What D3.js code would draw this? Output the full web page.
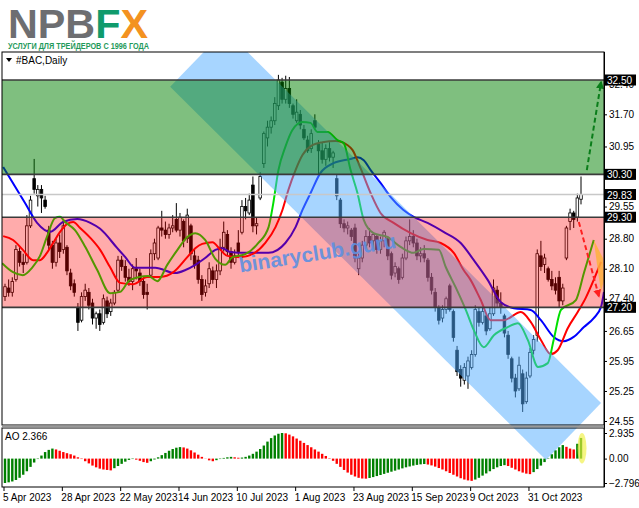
<!DOCTYPE html>
<html><head><meta charset="utf-8">
<script src="https://cdn.jsdelivr.net/npm/d3@7"></script>
<style>body{margin:0;background:#fff}svg{display:block}text{font-family:"Liberation Sans",Arial,sans-serif}</style>
</head><body><div id="c"></div>
<script>
// ---------- DATA ----------
const tickIdx=[0,16,32,48,64,80,96,112,128,144];
const tickLabels=["5 Apr 2023","28 Apr 2023","22 May 2023","14 Jun 2023","10 Jul 2023","1 Aug 2023","23 Aug 2023","15 Sep 2023","9 Oct 2023","31 Oct 2023"];
const open=[27.45,27.65,27.55,27.85,28.50,28.25,28.25,29.10,30.20,29.80,
29.95,29.70,29.00,28.65,28.25,28.70,28.55,28.60,28.00,27.75,
27.20,26.90,27.45,27.55,27.30,26.95,27.05,26.85,27.35,27.10,
27.30,27.60,28.30,28.15,27.90,27.80,28.10,28.00,27.80,27.55,
27.95,28.45,28.35,29.05,29.00,28.90,29.05,29.25,29.00,29.20,
28.80,29.10,28.40,28.30,27.85,27.55,27.75,28.05,27.85,28.05,
28.60,28.90,28.50,28.25,28.70,28.95,29.55,29.40,30.05,29.10,
29.75,30.55,31.15,31.40,31.55,31.90,32.45,32.05,32.30,31.90,
31.55,31.70,31.35,31.10,30.90,31.55,31.00,30.85,30.65,30.90,
30.70,30.20,29.70,29.15,29.05,29.00,29.05,28.10,28.35,28.65,
28.85,28.75,28.85,28.55,28.75,28.80,28.45,28.00,28.10,27.90,
28.35,28.75,28.85,28.70,28.40,28.45,28.30,27.90,27.55,27.20,
26.95,27.15,27.70,27.10,26.20,25.75,25.50,25.60,25.80,26.10,
27.10,26.85,27.00,26.70,27.05,27.60,27.30,27.00,26.55,26.00,
25.55,25.30,25.65,25.00,25.60,26.20,26.55,28.40,28.20,28.10,
27.85,27.75,27.90,27.35,28.35,29.20,29.40,29.30,29.72];
const high=[27.75,27.85,27.90,28.65,28.60,28.45,29.35,29.80,30.66,30.05,
30.05,29.80,29.10,28.75,28.80,28.90,29.25,28.65,28.10,27.85,
27.30,27.55,27.75,27.65,27.40,27.10,27.15,27.50,27.45,27.40,
27.60,28.40,28.40,28.30,28.10,28.20,28.35,28.10,27.90,27.75,
28.55,28.80,29.10,29.45,29.20,29.15,29.35,29.63,29.40,29.25,
29.50,29.15,28.55,28.40,27.95,27.85,28.25,28.15,28.20,28.80,
29.20,29.00,28.60,28.55,29.00,29.70,29.75,29.85,30.25,29.30,
30.35,31.30,31.55,31.65,32.10,32.62,32.55,32.60,32.57,31.95,
32.05,31.80,31.45,31.20,31.35,31.70,31.10,31.05,31.00,31.05,
30.85,30.30,29.75,29.25,29.20,29.05,29.15,28.45,28.75,29.00,
29.05,28.95,28.90,28.85,29.00,28.85,28.50,28.25,28.15,28.45,
28.85,29.25,29.00,28.80,28.60,28.65,28.35,28.00,27.65,27.25,
27.25,27.45,27.75,27.15,26.30,25.85,25.90,26.05,26.20,27.25,
27.20,27.20,27.05,27.20,27.85,27.70,27.55,27.05,26.65,26.05,
25.65,26.05,25.75,25.70,26.25,26.55,28.55,28.75,28.45,28.15,
28.05,27.90,28.05,27.75,29.10,29.50,29.45,29.85,30.25];
const low=[27.35,27.45,27.45,27.80,28.15,28.00,28.20,29.05,29.85,29.55,
29.40,29.50,28.55,28.10,28.15,28.35,28.45,27.95,27.60,27.45,
26.65,26.85,27.35,27.15,26.80,26.70,26.65,26.80,26.95,27.00,
27.25,27.55,28.05,27.80,27.70,27.60,27.85,27.70,27.40,27.15,
27.90,28.30,28.30,28.85,28.80,28.80,28.95,28.95,28.85,28.60,
28.70,28.30,28.10,27.75,27.35,27.45,27.65,27.75,27.65,27.95,
28.50,28.40,28.10,28.20,28.40,28.90,29.25,29.35,28.95,28.90,
29.70,30.45,30.95,31.25,31.45,31.80,31.95,31.95,31.85,31.60,
31.50,31.35,31.10,30.80,30.80,31.35,30.28,30.55,30.50,30.60,
30.45,29.70,29.05,28.95,28.90,28.75,28.25,27.95,28.25,28.55,
28.60,28.55,28.45,28.45,28.60,28.30,27.85,27.90,27.75,27.85,
28.30,28.65,28.60,28.30,28.25,28.25,27.80,27.50,27.10,26.80,
26.85,27.05,27.10,26.40,25.60,25.35,25.40,25.30,25.75,26.05,
26.75,26.80,26.55,26.65,27.00,27.20,27.05,26.50,26.00,25.45,
25.10,25.25,24.76,24.95,25.55,26.10,26.40,28.05,28.00,27.80,
27.60,27.50,27.20,27.25,28.30,29.00,29.05,29.20,29.60];
const close=[27.68,27.55,27.80,28.55,28.25,28.20,29.10,29.70,29.95,29.95,
29.75,29.55,28.65,28.25,28.70,28.50,29.10,28.05,27.70,27.55,
26.85,27.45,27.60,27.25,26.95,27.05,26.80,27.40,27.05,27.30,
27.55,28.30,28.15,27.90,27.80,28.10,28.05,27.80,27.50,27.50,
28.45,28.70,29.05,29.00,28.90,29.05,29.10,29.00,29.30,28.75,
29.35,28.45,28.20,27.85,27.50,27.70,28.10,27.85,28.05,28.60,
28.95,28.50,28.25,28.40,28.50,29.55,29.45,29.70,29.10,29.15,
30.25,31.25,31.40,31.55,31.95,32.50,32.05,32.30,31.95,31.70,
31.75,31.45,31.15,30.85,31.25,31.40,30.85,30.65,30.90,30.70,
30.80,29.80,29.15,29.05,29.10,28.85,28.35,28.35,28.65,28.85,
28.70,28.90,28.55,28.75,28.95,28.40,27.95,28.15,27.85,28.35,
28.75,28.85,28.70,28.40,28.45,28.35,27.90,27.60,27.20,26.90,
27.15,27.40,27.15,26.50,25.70,25.55,25.80,25.95,26.10,27.15,
26.85,27.10,26.65,27.05,27.65,27.30,27.20,26.60,26.10,25.55,
25.25,25.85,24.95,25.55,26.15,26.45,28.45,28.15,28.35,27.85,
27.70,27.60,27.35,27.65,29.05,29.40,29.25,29.75,29.83];
const ao=[-2.796,-2.72,-2.62,-2.45,-2.20,-1.85,-1.45,-0.95,-0.45,-0.05,
0.35,0.75,1.00,1.15,1.05,0.90,0.75,0.62,0.50,0.35,
0.15,-0.05,-0.30,-0.55,-0.80,-1.00,-1.15,-1.25,-1.30,-1.35,
-1.10,-0.85,-0.60,-0.35,-0.15,-0.05,-0.12,-0.25,-0.40,-0.48,
-0.30,-0.10,0.15,0.40,0.65,0.90,1.10,1.25,1.32,1.28,
1.15,0.95,0.70,0.45,0.20,-0.02,-0.20,-0.30,-0.18,-0.05,
0.08,0.15,0.20,0.15,0.10,0.12,0.20,0.35,0.55,0.80,
1.10,1.50,1.95,2.35,2.65,2.85,2.935,2.90,2.75,2.55,
2.30,2.05,1.80,1.55,1.30,1.05,0.80,0.55,0.30,0.05,
-0.25,-0.60,-0.95,-1.30,-1.60,-1.85,-2.05,-2.20,-2.28,-2.30,
-2.22,-2.12,-2.00,-1.88,-1.75,-1.62,-1.50,-1.38,-1.25,-1.12,
-1.00,-0.90,-0.80,-0.72,-0.66,-0.62,-0.68,-0.78,-0.92,-1.08,
-1.25,-1.45,-1.65,-1.85,-2.05,-2.25,-2.40,-2.50,-2.55,-2.40,
-2.20,-1.95,-1.70,-1.45,-1.20,-1.00,-0.85,-0.75,-0.85,-1.05,
-1.25,-1.45,-1.60,-1.72,-1.78,-1.55,-1.20,-0.80,-0.40,0.05,
0.50,0.95,1.30,1.55,1.35,1.15,1.05,1.70,2.366];
const jawIdx=[-0.5,5.5,8.8,12.4,15.9,19.8,23.4,26.1,30.8,33.0,35.7,41.2,46.7,49.5,52.2,54.9,57.7,59.6,61.8,65.9,72.3,76.9,79.7,81.6,83.8,86.5,90.1,94.8,96.7,98.4,100.3,103.0,105.8,109.3,112.1,115.9,120.3,125.0,128.6,132.4,136.0,139.6,144.2,147.0,150.5,153.3,156.0,158.8,161.5,163.5,164.3];
const jawVal=[30.47,29.63,29.17,28.96,29.19,29.26,29.17,29.03,28.58,28.37,28.12,28.12,28.00,28.07,28.19,28.35,28.54,28.58,28.49,28.47,28.47,28.70,29.07,29.47,29.86,30.33,30.56,30.66,30.70,30.63,30.40,30.10,29.77,29.47,29.31,29.17,28.96,28.70,28.30,27.84,27.32,27.18,27.14,26.90,26.51,26.41,26.51,26.74,26.95,27.21,27.56];
const teethIdx=[-0.5,2.2,4.9,7.7,9.6,11.5,13.2,15.1,17.0,18.7,20.6,23.4,26.1,28.8,31.6,35.2,39.0,42.6,46.2,50.0,52.2,54.1,56.9,59.1,61.0,64.6,67.9,71.4,74.2,76.1,77.7,79.7,81.6,84.3,87.1,90.7,94.0,95.3,97.5,100.3,103.0,106.6,111.3,115.9,119.5,123.1,125.8,127.7,130.5,133.2,136.8,141.5,144.2,147.0,149.7,151.6,154.4,157.1,159.3,161.5,163.5];
const teethVal=[28.86,28.77,28.54,28.30,28.30,28.47,28.70,28.96,29.14,29.19,29.05,28.82,28.54,28.14,27.77,27.74,27.91,27.91,28.02,28.37,28.58,28.68,28.72,28.54,28.40,28.37,28.44,28.70,29.07,29.47,29.93,30.40,30.75,30.98,31.05,31.08,30.98,30.87,30.45,29.86,29.40,29.17,28.93,28.77,28.70,28.47,28.07,27.84,27.37,26.90,26.90,27.09,26.86,26.44,26.11,26.20,26.72,27.09,27.42,27.84,28.26];
const lipsIdx=[-0.8,2.2,4.9,7.4,9.6,11.5,13.7,15.1,16.5,19.2,22.0,25.3,28.8,31.6,34.3,39.3,41.8,44.5,47.3,50.0,52.2,54.9,57.7,60.4,62.4,65.9,69.5,72.3,73.6,75.0,76.9,78.8,81.6,83.8,85.7,88.5,91.2,92.9,94.8,96.7,98.4,101.1,104.9,108.5,112.1,114.8,119.0,120.9,123.6,126.4,128.6,131.3,134.1,137.9,140.7,143.4,146.2,148.9,150.5,152.5,156.6,158.8,161.5];
const lipsVal=[28.23,28.02,27.95,28.12,28.40,28.84,29.28,29.31,29.19,29.00,28.61,28.07,27.53,27.56,27.84,27.93,27.81,28.19,28.54,28.84,28.93,28.77,28.33,28.19,28.37,28.44,28.70,29.07,29.63,30.40,30.94,31.33,31.52,31.50,31.29,31.29,31.10,31.03,30.40,29.86,29.24,28.93,28.84,28.61,28.47,28.56,28.54,28.14,27.67,27.14,26.67,26.27,26.55,26.74,26.83,26.44,25.81,25.90,26.44,27.14,27.37,28.00,28.77];
const priceTicks=[24.55,25.25,25.95,26.65,27.40,28.10,28.80,29.55,30.25,30.95,31.70,32.40];
const zoneGreen=[30.30,32.50];
const zoneRed=[27.20,29.30];
const levels=[32.50,30.30,29.30,27.20];
const lastPrice=29.83;
const aoTicks=[2.935,0,-2.796];
const aoLast=2.366;
const channelIdx=[45.3,60.4,163.5,148.4];
const channelVal=[32.34,33.67,24.97,23.64];
const upArrow=[[159.6,30.40],[163.5,32.45]];
const downArrow=[[157.4,29.19],[162.9,27.46]];
const orangeIdx=[161.5,164.0,164.3,163.5,162.6];
const orangeVal=[28.77,28.35,27.84,27.56,28.07];

// ---------- LAYOUT ----------
const W=639,H=508;
const L=2,R=604,mainTop=52,mainBot=425,aoTop=428,aoBot=487;
const svg=d3.select("#c").append("svg").attr("width",W).attr("height",H);
const x=d3.scaleLinear().domain([0,158]).range([5,581]);
const y=d3.scaleLinear().domain([24.55,32.50]).range([421,80]);
const yA=d3.scaleLinear().domain([-2.796,2.935]).range([483,433]);
const defs=svg.append("defs");
function clip(id,x0,y0,x1,y1){defs.append("clipPath").attr("id",id).append("rect").attr("x",x0).attr("y",y0).attr("width",x1-x0).attr("height",y1-y0);}
clip("cm",L,mainTop,R,mainBot);clip("ca",L,aoTop,R,aoBot);clip("call",L,mainTop,R,aoBot);

// logo
const logo=svg.append("text").attr("x",8).attr("y",38).attr("font-size",41).attr("font-weight","bold")
 .attr("textLength",140).attr("lengthAdjust","spacingAndGlyphs");
logo.append("tspan").attr("fill","#6d6e71").text("NPB");
logo.append("tspan").attr("fill","#0f9b6c").text("F");
logo.append("tspan").attr("fill","#f39221").text("X");
svg.append("text").attr("x",8).attr("y",48.5).attr("font-size",8.5).attr("font-weight","bold").attr("fill","#1f9a5b")
 .attr("textLength",141).attr("lengthAdjust","spacingAndGlyphs").text("УСЛУГИ ДЛЯ ТРЕЙДЕРОВ С 1996 ГОДА");

// AO bars
const gA=svg.append("g").attr("clip-path","url(#ca)");
gA.selectAll("rect").data(ao).join("rect")
 .attr("x",(d,i)=>x(i)-1.2).attr("width",2.4)
 .attr("y",d=>Math.min(yA(d),yA(0))).attr("height",d=>Math.abs(yA(d)-yA(0)))
 .attr("fill",(d,i)=>i===0||d>ao[i-1]?"#008000":"#ff0000");
gA.append("ellipse").attr("cx",x(158)+1).attr("cy",(yA(aoLast)+yA(0))/2).attr("rx",4.5).attr("ry",(yA(0)-yA(aoLast))/2+5)
 .attr("fill","#f0f040").attr("opacity",0.65);

// candles
const gM=svg.append("g").attr("clip-path","url(#cm)");
const idx=d3.range(close.length);
gM.selectAll("line.w").data(idx).join("line").attr("x1",i=>x(i)).attr("x2",i=>x(i))
 .attr("y1",i=>y(high[i])).attr("y2",i=>y(low[i])).attr("stroke","#000").attr("stroke-width",1);
gM.selectAll("rect.b").data(idx).join("rect")
 .attr("x",i=>x(i)-1.3).attr("width",2.6)
 .attr("y",i=>y(Math.max(open[i],close[i]))).attr("height",i=>Math.max(1,Math.abs(y(open[i])-y(close[i]))))
 .attr("fill",i=>close[i]>=open[i]?"#fff":"#000").attr("stroke","#000").attr("stroke-width",0.8);

// alligator
const ln=d3.line().x(d=>x(d[0])).y(d=>y(d[1])).curve(d3.curveMonotoneX);
[[jawIdx,jawVal,"#0000ff"],[teethIdx,teethVal,"#ff0000"],[lipsIdx,lipsVal,"#00e000"]].forEach(([a,b,c])=>{
 gM.append("path").attr("d",ln(a.map((v,k)=>[v,b[k]]))).attr("fill","none").attr("stroke",c).attr("stroke-width",2);
});

// channel
svg.append("g").attr("clip-path","url(#call)").append("polygon")
 .attr("points",channelIdx.map((v,k)=>x(v)+","+y(channelVal[k])).join(" "))
 .attr("fill","rgb(80,172,255)").attr("opacity",0.5);

// zones
const gZ=svg.append("g").attr("clip-path","url(#cm)");
gZ.append("rect").attr("x",L).attr("width",R-L).attr("y",y(zoneGreen[1])).attr("height",y(zoneGreen[0])-y(zoneGreen[1]))
 .attr("fill","rgb(0,128,0)").attr("opacity",0.5);
gZ.append("rect").attr("x",L).attr("width",R-L).attr("y",y(zoneRed[1])).attr("height",y(zoneRed[0])-y(zoneRed[1]))
 .attr("fill","rgb(255,0,0)").attr("opacity",0.33);
gZ.append("line").attr("x1",L).attr("x2",R).attr("y1",y(lastPrice)).attr("y2",y(lastPrice)).attr("stroke","#c8c8c8").attr("stroke-width",1.5);
levels.forEach(v=>gZ.append("line").attr("x1",L).attr("x2",R).attr("y1",y(v)).attr("y2",y(v)).attr("stroke","#3a3a3a").attr("stroke-width",1.6));

// watermark
gZ.append("text").attr("transform",`translate(${x(86)},${y(28.3)}) rotate(-9)`).attr("text-anchor","middle")
 .attr("font-family","'Open Sans',sans-serif").attr("font-weight","bold").attr("font-size",21).attr("fill","#5f90e0").attr("opacity",0.9)
 .text("binaryclub.guru");

// orange mark and arrows
gZ.append("polygon").attr("points",orangeIdx.map((v,k)=>x(v)+","+y(orangeVal[k])).join(" ")).attr("fill","#ffb03c").attr("opacity",0.85);
function marker(id,col){defs.append("marker").attr("id",id).attr("viewBox","0 0 10 10").attr("refX",8).attr("refY",5)
 .attr("markerWidth",4).attr("markerHeight",4).attr("orient","auto").append("path").attr("d","M0,0L10,5L0,10z").attr("fill",col);}
marker("mg","#0a7d1a");marker("mr","#ff2020");
gZ.append("line").attr("x1",x(upArrow[0][0])).attr("y1",y(upArrow[0][1])).attr("x2",x(upArrow[1][0])).attr("y2",y(upArrow[1][1]))
 .attr("stroke","#0a7d1a").attr("stroke-width",2).attr("stroke-dasharray","5,3").attr("marker-end","url(#mg)");
gZ.append("line").attr("x1",x(downArrow[0][0])).attr("y1",y(downArrow[0][1])).attr("x2",x(downArrow[1][0])).attr("y2",y(downArrow[1][1]))
 .attr("stroke","#ff2020").attr("stroke-width",2).attr("stroke-dasharray","5,3").attr("marker-end","url(#mr)");

// frames
svg.append("rect").attr("x",L).attr("y",mainTop).attr("width",R-L).attr("height",mainBot-mainTop).attr("fill","none").attr("stroke","#000").attr("stroke-width",1);
svg.append("rect").attr("x",L).attr("y",aoTop).attr("width",R-L).attr("height",aoBot-aoTop).attr("fill","none").attr("stroke","#000").attr("stroke-width",1);
svg.append("rect").attr("x",L).attr("y",mainBot+0.5).attr("width",R-L).attr("height",aoTop-mainBot-1).attr("fill","#9a9a9a");

// title
svg.append("path").attr("d","M6,58L12,58L9,62z").attr("fill","#000");
svg.append("text").attr("x",16).attr("y",64).attr("font-size",10).text("#BAC,Daily");
svg.append("text").attr("x",5).attr("y",440).attr("font-size",10).text("AO "+aoLast.toFixed(3));

// price axis
const ax=svg.append("g").attr("transform",`translate(${R},0)`)
 .call(d3.axisRight(y).tickValues(priceTicks).tickFormat(d3.format(".2f")).tickSize(3).tickPadding(2));
ax.select(".domain").attr("d",`M0.5,${mainTop}V${aoBot}`);
ax.selectAll("text").attr("font-size",10).attr("font-family","'Liberation Sans',Arial,sans-serif");
[...levels,lastPrice].forEach(v=>{
 svg.append("rect").attr("x",R+1).attr("y",y(v)-5.5).attr("width",31).attr("height",11).attr("fill","#000");
 svg.append("text").attr("x",R+3).attr("y",y(v)+4).attr("font-size",10).attr("fill","#fff").text(v.toFixed(2));
});
const aa=svg.append("g").attr("transform",`translate(${R},0)`)
 .call(d3.axisRight(yA).tickValues(aoTicks).tickFormat(d=>d===0?"0.00":d3.format(".3f")(d)).tickSize(3).tickPadding(2));
aa.select(".domain").remove();
aa.selectAll("text").attr("font-size",10).attr("font-family","'Liberation Sans',Arial,sans-serif");

// date axis
const gx=svg.append("g");
tickIdx.forEach((t,k)=>{
 gx.append("line").attr("x1",x(t)-1).attr("x2",x(t)-1).attr("y1",aoBot).attr("y2",aoBot+4).attr("stroke","#000");
 gx.append("text").attr("x",x(t)-2).attr("y",501).attr("font-size",10).text(tickLabels[k]);
});
</script></body></html>
